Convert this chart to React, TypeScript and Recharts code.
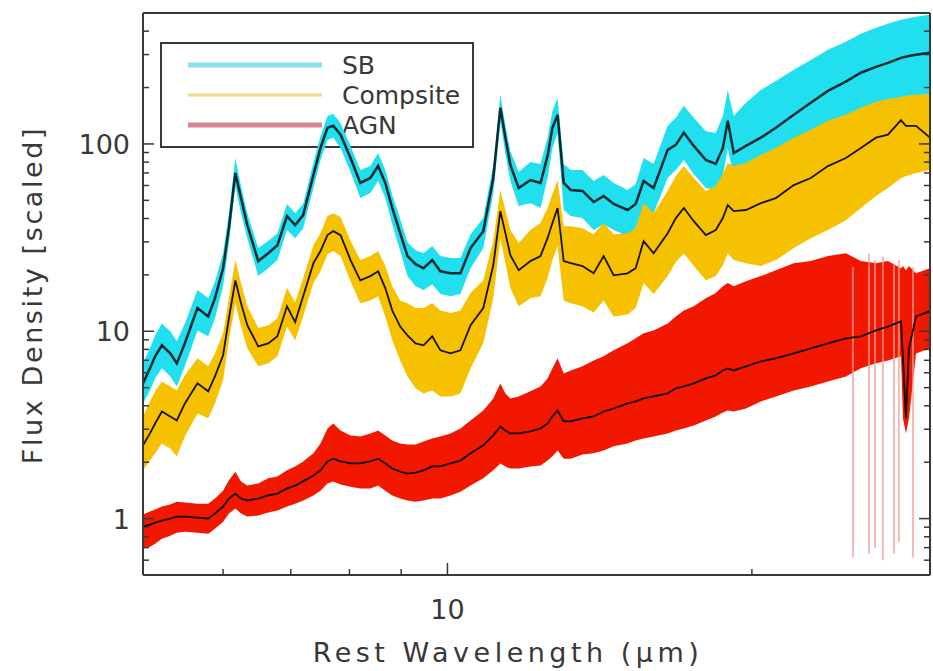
import { ComposedChart, Area, Line, XAxis, YAxis, ReferenceLine } from 'recharts';

// rest wavelength grid (micron)
const WAVE = [
  5.00, 5.08, 5.14, 5.22, 5.32, 5.40, 5.50, 5.66, 5.80, 5.89,
  6.00, 6.08, 6.17, 6.25, 6.34, 6.50, 6.65, 6.79, 6.94, 7.07,
  7.20, 7.37, 7.49, 7.61, 7.71, 7.84, 8.02, 8.20, 8.39, 8.54,
  8.68, 8.82, 8.98, 9.13, 9.30, 9.47, 9.66, 9.84, 10.07, 10.30,
  10.54, 10.85, 11.10, 11.28, 11.41, 11.54, 11.76, 12.08, 12.36, 12.56,
  12.70, 12.85, 13.03, 13.24, 13.60, 13.95, 14.27, 14.60, 15.07, 15.35,
  15.63, 15.99, 16.51, 16.82, 17.13, 17.52, 18.01, 18.42, 18.72, 18.93,
  19.19, 19.73, 20.41, 21.12, 22.00, 22.87, 23.78, 24.77, 25.63, 26.53,
  27.26, 28.08, 28.21, 28.40, 28.60, 29.06, 30.00,
];

// starburst template: median and spread
const SB_FLUX = [
  5.27, 6.34, 7.35, 8.42, 7.63, 6.74, 8.63, 13.3, 12.0, 15.0,
  21.7, 35.5, 70.0, 51.4, 36.9, 23.7, 26.1, 28.8, 41.2, 36.9,
  41.7, 68.3, 95.2, 122, 125, 112, 84.2, 61.9, 65.8, 76.3,
  61.9, 45.5, 33.4, 25.2, 22.8, 21.7, 24.0, 20.9, 20.4, 20.4,
  27.8, 34.2, 65.8, 156, 108, 77.2, 58.2, 64.2, 61.9, 86.3,
  122, 143, 61.9, 56.8, 56.1, 49.0, 52.7, 47.8, 44.4, 47.8,
  63.4, 58.2, 92.9, 98.8, 115, 97.6, 82.1, 78.2, 95.2, 133,
  89.5, 97.6, 108, 122, 143, 166, 192, 215, 240, 258,
  271, 288, 290, 292, 295, 299, 307,
];
const SB_HI = [
  6.74, 8.11, 9.52, 11.0, 10.0, 8.84, 11.0, 16.6, 15.0, 18.3,
  26.1, 42.7, 84.1, 59.6, 42.7, 27.8, 30.3, 33.4, 47.8, 42.7,
  47.8, 79.1, 110, 141, 145, 129, 97.6, 72.6, 76.2, 89.5,
  72.6, 53.4, 39.7, 29.9, 27.1, 26.1, 28.5, 25.2, 24.6, 24.6,
  33.0, 40.2, 77.2, 183, 126, 91.7, 70.8, 80.1, 78.2, 108,
  150, 176, 78.2, 72.6, 72.6, 63.4, 68.2, 61.9, 56.7, 61.1,
  84.1, 78.2, 125, 138, 160, 138, 117, 114.5, 141, 194,
  141, 166, 194, 217, 249, 281, 318, 351, 387, 417,
  438, 460, 463, 466, 470, 477, 489,
];
const SB_LO = [
  4.12, 4.83, 5.60, 6.34, 5.74, 5.08, 6.50, 10.1, 9.40, 11.7,
  17.4, 29.5, 59.6, 42.7, 31.4, 19.7, 21.7, 24.0, 34.7, 31.4,
  35.5, 58.2, 82.1, 105, 108, 95.2, 70.8, 51.4, 54.7, 63.4,
  51.4, 37.3, 26.8, 19.7, 17.4, 16.6, 17.8, 15.8, 15.4, 15.8,
  21.7, 27.8, 54.0, 131, 88.4, 63.4, 46.6, 48.3, 45.5, 65.8,
  95.2, 114.5, 44.4, 41.2, 40.2, 34.7, 37.3, 34.7, 32.2, 35.5,
  45.5, 42.7, 65.8, 72.6, 82.1, 69.1, 58.2, 56.7, 67.4, 95.2,
  65.8, 69.1, 74.4, 82.1, 95.2, 108, 122, 134, 148, 160,
  168, 176, 177, 178, 179, 181, 185,
];

// composite template
const COMP_FLUX = [
  2.46, 2.85, 3.22, 3.73, 3.51, 3.34, 4.12, 5.27, 4.78, 5.74,
  7.44, 11.7, 18.7, 14.1, 10.77, 8.31, 8.62, 9.40, 13.6, 11.2,
  15.4, 23.1, 26.8, 32.6, 34.25, 32.6, 24.0, 18.7, 19.7, 20.9,
  17.0, 12.9, 10.6, 9.52, 8.62, 8.41, 9.40, 7.91, 7.62, 7.91,
  10.77, 13.3, 22.5, 43.8, 33.4, 25.5, 21.2, 23.7, 25.2, 31.4,
  37.8, 45.5, 23.7, 23.1, 22.3, 20.4, 25.2, 19.9, 20.4, 21.7,
  30.3, 26.1, 33.4, 40.2, 45.5, 38.7, 32.6, 34.7, 40.2, 47.2,
  43.8, 44.4, 48.3, 51.4, 60.3, 65.8, 76.2, 84.1, 95.2, 108,
  112, 134, 130, 125, 125, 125, 108,
];
const COMP_HI = [
  3.51, 4.22, 4.78, 5.40, 5.08, 4.83, 5.82, 7.17, 6.50, 7.62,
  9.75, 15.0, 24.0, 18.1, 13.6, 10.4, 10.77, 11.7, 17.0, 14.3,
  19.2, 28.8, 33.4, 41.2, 42.7, 40.7, 30.3, 24.0, 25.2, 26.8,
  22.3, 17.4, 14.6, 14.1, 13.3, 13.3, 14.1, 12.9, 12.5, 12.9,
  16.0, 18.7, 30.3, 56.7, 44.4, 34.7, 29.5, 34.7, 37.8, 45.5,
  54.0, 64.2, 36.4, 36.4, 35.5, 33.0, 37.8, 33.0, 33.4, 35.5,
  48.3, 42.7, 56.0, 67.4, 76.2, 65.8, 56.0, 59.6, 69.1, 79.1,
  76.2, 79.1, 87.3, 95.2, 108, 119, 133, 143, 156, 168,
  174, 178, 179, 181, 182, 183, 185,
];
const COMP_LO = [
  1.81, 2.04, 2.23, 2.52, 2.37, 2.15, 2.74, 3.64, 3.43, 4.12,
  5.47, 8.95, 14.1, 10.6, 8.11, 6.50, 6.74, 7.35, 10.6, 8.95,
  12.0, 18.1, 20.9, 25.8, 26.8, 25.2, 18.5, 14.1, 14.6, 15.4,
  12.0, 8.95, 6.99, 5.74, 4.96, 4.66, 4.83, 4.49, 4.49, 4.66,
  6.34, 8.62, 15.0, 31.4, 23.1, 17.0, 13.6, 15.0, 15.4, 19.2,
  24.0, 28.5, 14.6, 14.1, 13.6, 12.6, 14.6, 12.0, 12.3, 13.3,
  18.1, 15.8, 19.7, 23.4, 26.1, 22.3, 18.7, 19.7, 22.5, 26.1,
  24.0, 23.1, 22.3, 24.0, 27.8, 31.4, 34.7, 39.2, 45.5, 52.7,
  58.2, 65.8, 66.5, 67.4, 68.0, 70.0, 72.6,
];

// AGN template
const AGN_FLUX = [
  0.906, 0.928, 0.952, 0.975, 1.00, 1.025, 1.025, 1.012, 1.00, 1.064,
  1.16, 1.28, 1.36, 1.28, 1.25, 1.28, 1.33, 1.36, 1.45, 1.50,
  1.58, 1.70, 1.81, 2.02, 2.09, 2.02, 1.97, 1.97, 2.02, 2.09,
  1.97, 1.85, 1.78, 1.74, 1.76, 1.81, 1.90, 1.90, 1.97, 2.04,
  2.23, 2.46, 2.78, 3.10, 2.95, 2.85, 2.85, 2.92, 3.03, 3.22,
  3.51, 3.78, 3.30, 3.30, 3.43, 3.51, 3.73, 3.87, 4.12, 4.22,
  4.38, 4.49, 4.66, 4.96, 5.08, 5.27, 5.60, 5.82, 6.18, 6.34,
  6.18, 6.50, 6.91, 7.17, 7.62, 8.11, 8.62, 9.17, 9.40, 10.1,
  10.6, 11.3, 7.17, 3.43, 8.11, 12.0, 12.8,
];
const AGN_HI = [
  1.051, 1.09, 1.117, 1.16, 1.19, 1.23, 1.22, 1.20, 1.20, 1.28,
  1.41, 1.60, 1.78, 1.58, 1.50, 1.54, 1.64, 1.68, 1.81, 1.90,
  2.02, 2.23, 2.52, 3.03, 3.22, 2.95, 2.78, 2.74, 2.85, 2.95,
  2.78, 2.61, 2.52, 2.49, 2.49, 2.58, 2.68, 2.74, 2.85, 3.03,
  3.34, 3.78, 4.38, 5.27, 4.66, 4.38, 4.49, 4.78, 5.08, 5.60,
  6.34, 7.17, 5.96, 6.18, 6.50, 6.99, 7.35, 7.91, 8.62, 9.17,
  9.75, 10.1, 11.0, 12.0, 12.9, 13.6, 15.0, 16.0, 17.4, 18.1,
  17.4, 18.5, 19.7, 21.2, 23.1, 23.7, 25.2, 26.1, 23.7, 23.1,
  23.7, 21.7, 22.3, 21.2, 22.3, 20.4, 21.7,
];
const AGN_LO = [
  0.691, 0.708, 0.735, 0.781, 0.811, 0.841, 0.852, 0.841, 0.831, 0.884,
  0.963, 1.064, 1.131, 1.064, 1.025, 1.038, 1.077, 1.104, 1.16, 1.20,
  1.25, 1.33, 1.41, 1.54, 1.58, 1.52, 1.48, 1.45, 1.45, 1.50,
  1.41, 1.33, 1.28, 1.25, 1.23, 1.25, 1.28, 1.28, 1.33, 1.39,
  1.50, 1.64, 1.81, 1.97, 1.90, 1.85, 1.85, 1.90, 1.92, 2.04,
  2.15, 2.31, 2.09, 2.09, 2.20, 2.23, 2.31, 2.43, 2.52, 2.61,
  2.68, 2.74, 2.85, 2.95, 3.03, 3.14, 3.34, 3.51, 3.69, 3.78,
  3.73, 3.87, 4.22, 4.49, 4.83, 5.08, 5.40, 5.74, 6.34, 6.74,
  6.99, 7.35, 3.43, 2.85, 3.43, 7.62, 8.11,
];

// noisy individual AGN spectra at the long-wavelength end
const SPIKE_WAVE = [25.17, 26.11, 26.47, 26.95, 27.64, 27.95, 28.86];
const SPIKE_LO = [0.62, 0.65, 0.70, 0.60, 0.65, 0.75, 0.62];
const SPIKE_HI = [22, 26, 24, 25, 23, 24, 22];

const X_TICKS = [6, 7, 8, 9, 10, 20];
const X_LABELS = [10];
const Y_TICKS = [
  0.6, 0.7, 0.8, 0.9, 1, 2, 3, 4, 5, 6, 7, 8, 9,
  10, 20, 30, 40, 50, 60, 70, 80, 90, 100, 200, 300, 400,
];
const Y_LABELS = [1, 10, 100];

const rows = WAVE.map((w, i) => ({
  w,
  sb: SB_FLUX[i],
  sbBand: [SB_LO[i], SB_HI[i]],
  comp: COMP_FLUX[i],
  compBand: [COMP_LO[i], COMP_HI[i]],
  agn: AGN_FLUX[i],
  agnBand: [AGN_LO[i], AGN_HI[i]],
}));

const FONT = '"DejaVu Sans", sans-serif';
const INK = '#383838';
const W = 933;
const H = 671;

// IDL-style ticks: drawn inward from the frame, labels only on decades
const LeftTick = ({ x, y, payload }: any) => {
  const major = Y_LABELS.includes(payload.value);
  return (
    <g>
      <line x1={x} x2={x + (major ? 11 : 6)} y1={y} y2={y} stroke={INK} strokeWidth={1.5} />
      {major && (
        <text x={x - 13} y={y + 10} textAnchor="end" fontSize={27} fill={INK} fontFamily={FONT}>
          {payload.value}
        </text>
      )}
    </g>
  );
};

const RightTick = ({ x, y, payload }: any) => {
  const major = Y_LABELS.includes(payload.value);
  return <line x1={x} x2={x - (major ? 11 : 6)} y1={y} y2={y} stroke={INK} strokeWidth={1.5} />;
};

const BottomTick = ({ x, y, payload }: any) => {
  const major = X_LABELS.includes(payload.value);
  return (
    <g>
      <line x1={x} x2={x} y1={y} y2={y - (major ? 12 : 6)} stroke={INK} strokeWidth={1.5} />
      {major && (
        <text x={x} y={y + 44} textAnchor="middle" fontSize={27} fill={INK} fontFamily={FONT}>
          {payload.value}
        </text>
      )}
    </g>
  );
};

const TopTick = ({ x, y, payload }: any) => {
  const major = X_LABELS.includes(payload.value);
  return <line x1={x} x2={x} y1={y} y2={y + (major ? 12 : 6)} stroke={INK} strokeWidth={1.5} />;
};

const LEGEND = [
  { name: 'SB', color: '#86e2f0', width: 5, y: 65 },
  { name: 'Compsite', color: '#f2d88a', width: 3, y: 95 },
  { name: 'AGN', color: '#d88490', width: 5, y: 125 },
];

export default function App() {
  const frame = { stroke: INK, strokeWidth: 2 };
  return (
    <div style={{ position: 'absolute', left: 0, top: 0, width: W, height: H, background: '#fff' }}>
      {/* legend and axis titles sit under the plot so the spectra can run over them */}
      <svg width={W} height={H} style={{ position: 'absolute', left: 0, top: 0 }}>
        <rect x={161} y={43} width={312} height={104} fill="none" stroke={INK} strokeWidth={2} />
        {LEGEND.map((l) => (
          <g key={l.name}>
            <line x1={188} x2={322} y1={l.y} y2={l.y} stroke={l.color} strokeWidth={l.width} />
            <text x={342} y={l.y + 9} fontSize={25} fill={INK} fontFamily={FONT}>{l.name}</text>
          </g>
        ))}
        <text x={508} y={662} textAnchor="middle" fontSize={27} letterSpacing={4.5} fill={INK} fontFamily={FONT}>
          Rest Wavelength (μm)
        </text>
        <text transform="translate(42,295) rotate(-90)" textAnchor="middle" fontSize={27}
              letterSpacing={2.6} fill={INK} fontFamily={FONT}>
          Flux Density [scaled]
        </text>
      </svg>
      <div style={{ position: 'absolute', left: 0, top: 0 }}>
        <ComposedChart width={W} height={H} data={rows}
                       margin={{ top: 12, right: 2, bottom: 0, left: 0 }}>
          <XAxis dataKey="w" type="number" scale="log" domain={[5, 30]} allowDataOverflow
                 ticks={X_TICKS} interval={0} tick={BottomTick} tickSize={0} tickMargin={0}
                 tickLine={false} axisLine={frame} height={96} />
          <XAxis xAxisId="top" orientation="top" type="number" scale="log" domain={[5, 30]}
                 allowDataOverflow ticks={X_TICKS} interval={0} tick={TopTick} tickSize={0}
                 tickMargin={0} tickLine={false} axisLine={frame} height={1} />
          <YAxis type="number" scale="log" domain={[0.5, 500]} allowDataOverflow ticks={Y_TICKS}
                 interval={0} tick={LeftTick} tickSize={0} tickMargin={0} tickLine={false}
                 axisLine={frame} width={143} />
          <YAxis yAxisId="right" orientation="right" type="number" scale="log" domain={[0.5, 500]}
                 allowDataOverflow ticks={Y_TICKS} interval={0} tick={RightTick} tickSize={0}
                 tickMargin={0} tickLine={false} axisLine={frame} width={1} />

          <Area dataKey="sbBand" type="linear" stroke="none" fill="#22dff0" fillOpacity={1}
                isAnimationActive={false} />
          <Area dataKey="compBand" type="linear" stroke="none" fill="#f6c100" fillOpacity={1}
                isAnimationActive={false} />
          {SPIKE_WAVE.map((w, i) => (
            <ReferenceLine key={w} segment={[{ x: w, y: SPIKE_LO[i] }, { x: w, y: SPIKE_HI[i] }]}
                           stroke="#f39a9a" strokeOpacity={0.7} strokeWidth={2} ifOverflow="hidden" />
          ))}
          <Area dataKey="agnBand" type="linear" stroke="none" fill="#f21800" fillOpacity={1}
                isAnimationActive={false} />

          <Line dataKey="sb" type="linear" stroke="#0c2a30" strokeWidth={2.5} dot={false}
                isAnimationActive={false} />
          <Line dataKey="comp" type="linear" stroke="#1a1200" strokeWidth={1.8} dot={false}
                isAnimationActive={false} />
          <Line dataKey="agn" type="linear" stroke="#150000" strokeWidth={1.8} dot={false}
                isAnimationActive={false} />
        </ComposedChart>
      </div>
    </div>
  );
}
